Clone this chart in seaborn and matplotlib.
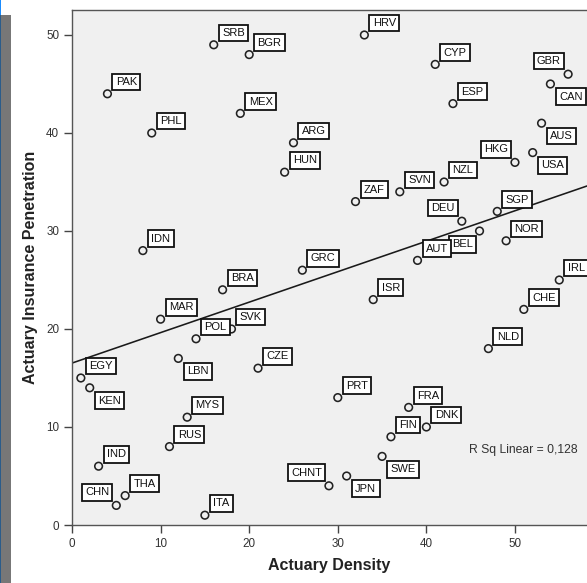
import numpy as np
import pandas as pd
import matplotlib
matplotlib.use("Agg")
import matplotlib.pyplot as plt
import seaborn as sns
from matplotlib.patches import Rectangle

# ---- data ----
countries = ["SRB", "BGR", "PAK", "MEX", "PHL", "ARG", "HUN", "HRV", "CYP", "GBR",
             "CAN", "ESP", "AUS", "HKG", "USA", "NZL", "SVN", "ZAF", "DEU", "SGP",
             "BEL", "NOR", "AUT", "GRC", "IRL", "ISR", "CHE", "NLD", "IDN", "BRA",
             "MAR", "POL", "SVK", "LBN", "CZE", "EGY", "KEN", "MYS", "RUS", "IND",
             "THA", "CHN", "ITA", "PRT", "FRA", "DNK", "FIN", "SWE", "JPN", "CHNT"]
density = [16, 20, 4, 19, 9, 25, 24, 33, 41, 56,
           54, 43, 53, 50, 52, 42, 37, 32, 44, 48,
           46, 49, 39, 26, 55, 34, 51, 47, 8, 17,
           10, 14, 18, 12, 21, 1, 2, 13, 11, 3,
           6, 5, 15, 30, 38, 40, 36, 35, 31, 29]
penetration = [49, 48, 44, 42, 40, 39, 36, 50, 47, 46,
               45, 43, 41, 37, 38, 35, 34, 33, 31, 32,
               30, 29, 27, 26, 25, 23, 22, 18, 28, 24,
               21, 19, 20, 17, 16, 15, 14, 11, 8, 6,
               3, 2, 1, 13, 12, 10, 9, 7, 5, 4]
x_ticks = [0, 10, 20, 30, 40, 50]
y_ticks = [0, 10, 20, 30, 40, 50]
r2_label = "R Sq Linear = 0,128"

# label placement relative to the point (ur = upper right, lr = lower right, ...)
placement = {"KEN": "lr", "LBN": "lr", "CAN": "lr", "AUS": "lr", "USA": "lr",
             "SWE": "lr", "JPN": "lr",
             "GBR": "ul", "HKG": "ul", "DEU": "ul", "CHNT": "ul", "CHN": "ul",
             "BEL": "ll"}

# ---- style ----
sns.set_theme(style="white")
plt.rcParams["font.family"] = ["Liberation Sans", "DejaVu Sans"]

W, H = 587, 583
fig = plt.figure(figsize=(W / 100, H / 100), dpi=100)
fig.patch.set_facecolor("white")

# left strip decoration
fig.add_artist(Rectangle((0, 0), 11 / W, (H - 15) / H, transform=fig.transFigure,
                         facecolor="#777777", edgecolor="none"))
fig.add_artist(Rectangle((0, 0), 1.2 / W, 1, transform=fig.transFigure,
                         facecolor="#1a8cff", edgecolor="none"))
fig.add_artist(Rectangle((0, 0), 1.2 / W, (H - 15) / H, transform=fig.transFigure,
                         facecolor="#2a5c8a", edgecolor="none"))

ax = fig.add_axes([72 / W, (H - 525) / H, (W - 72) / W, 515 / H])
ax.set_facecolor("#f0f0f0")
ax.set_xlim(0, 58.13)
ax.set_ylim(0, 52.55)

df = pd.DataFrame({"country": countries, "density": density, "penetration": penetration})

sns.regplot(data=df, x="density", y="penetration", ax=ax, scatter=False, ci=None,
            truncate=False, line_kws=dict(color="#1a1a1a", lw=1.15))
sns.scatterplot(data=df, x="density", y="penetration", ax=ax, s=30,
                facecolor="none", edgecolor="#222222", linewidth=1.15, zorder=3)

fs = 8
pad_px = 0.3 * fs * 100 / 72
for c, xv, yv in zip(countries, density, penetration):
    p = placement.get(c, "ur")
    if p == "ur":
        off, ha, va = (5 + pad_px, 3.5 + pad_px), "left", "bottom"
    elif p == "lr":
        off, ha, va = (5.3 + pad_px, -(4.5 + pad_px)), "left", "top"
    elif p == "ul":
        off, ha, va = (-(3.8 + pad_px), 4.8 + pad_px), "right", "bottom"
    else:
        off, ha, va = (-(3.4 + pad_px), -(5 + pad_px)), "right", "top"
    ax.annotate(c, xy=(xv, yv), xytext=off, textcoords="offset pixels",
                ha=ha, va=va, fontsize=fs, color="#111111", zorder=4,
                bbox=dict(boxstyle="square,pad=0.3", facecolor="white",
                          edgecolor="#111111", linewidth=1.3))

ax.text(44.8, 7.65, r2_label, ha="left", va="center", fontsize=8.7, color="#333333")

ax.set_xticks(x_ticks)
ax.set_yticks(y_ticks)
ax.tick_params(direction="out", length=5.8, width=1.0, color="#444444",
               labelsize=8.4, labelcolor="#333333", pad=3.5,
               bottom=True, left=True)
for s in ["left", "bottom", "top"]:
    ax.spines[s].set_color("#555555")
    ax.spines[s].set_linewidth(1.0)
ax.spines["right"].set_visible(False)

ax.set_xlabel("Actuary Density", fontsize=11.5, fontweight="bold", color="#222222",
              labelpad=6)
ax.set_ylabel("Actuary Insurance Penetration", fontsize=11.5, fontweight="bold",
              color="#222222", labelpad=6)

fig.savefig("out.png", dpi=100)
